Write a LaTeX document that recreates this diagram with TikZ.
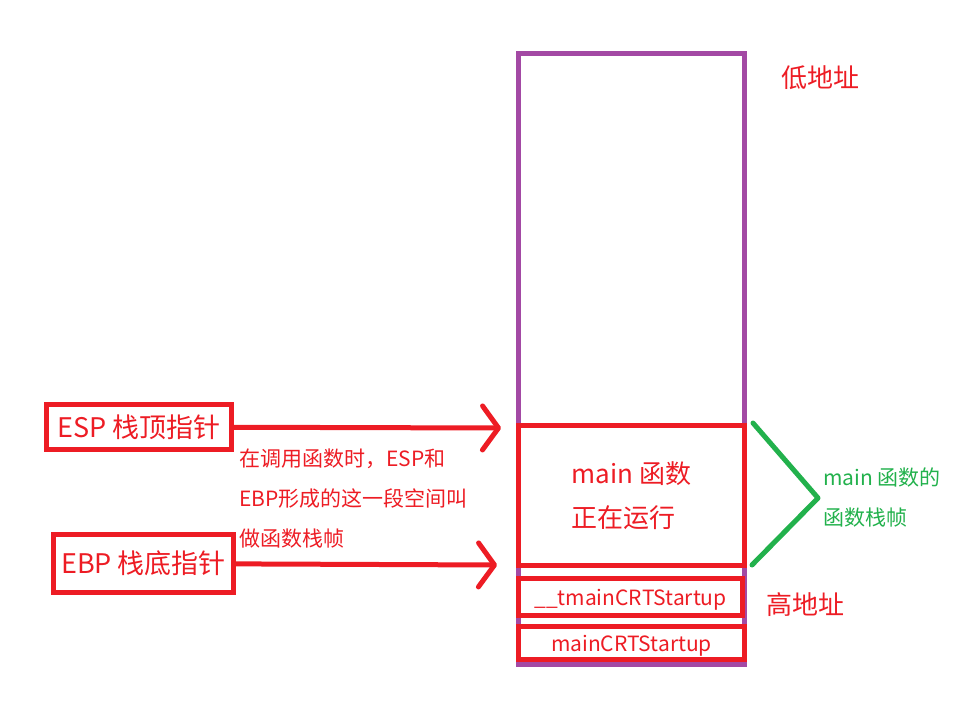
\documentclass[tikz,border=0pt]{standalone}
\usepackage{fontspec}
\setmainfont{Noto Sans CJK SC}
\usetikzlibrary{arrows.meta}
\definecolor{pred}{HTML}{ED1C24}
\definecolor{ppurple}{HTML}{A349A4}
\definecolor{pgreen}{HTML}{22B14C}

\begin{document}
\begin{tikzpicture}[x=1pt, y=-1pt,
    redbox/.style={draw=pred, line width=5pt, inner sep=0pt, text=pred},
    pointer/.style={draw=pred, line width=5pt, -{Straight Barb[length=16pt, width=44pt, line width=5pt, round]}},
    redtext/.style={text=pred, inner sep=0pt}]
    \useasboundingbox (0,0) rectangle (954,703);
    %\draw[step=50, gray, very thin] (0,0) grid (954,703);

    % the stack
    \node[draw=ppurple, line width=5pt, minimum width=226pt, minimum height=611pt] (stack) at (631.5,359) {};
    \node[redbox, minimum width=226pt, minimum height=140pt, align=left,
          font=\fontsize{26}{44}\selectfont] (mainfr) at (631.5,495.5) {main 函数\\正在运行};
    \node[redbox, minimum width=224pt, minimum height=37pt, text depth=0pt,
          font=\fontsize{21}{24}\selectfont] (tmain) at (630.5,597) {\_\_tmainCRTStartup};
    \node[redbox, minimum width=226pt, minimum height=33pt, text depth=0pt,
          font=\fontsize{21}{24}\selectfont] (crt) at (631.5,643) {mainCRTStartup};
    \node[redtext, font=\fontsize{26}{30}\selectfont] (low) at (820,78) {低地址};
    \node[redtext, font=\fontsize{26}{30}\selectfont] (high) at (805,605) {高地址};

    % the pointers
    \begin{scope}[font=\fontsize{27}{30}\selectfont]
    \node[redbox, minimum width=185pt, minimum height=45pt] (esp) at (139,427) {ESP 栈顶指针};
    \node[redbox, minimum width=180pt, minimum height=58pt] (ebp) at (143.5,563.5) {EBP 栈底指针};
    \end{scope}
    \coordinate (esptip) at (501,428);
    \coordinate (ebptip) at (497,565);
    \draw[pointer] (esp) -- (esptip);
    \draw[pointer] (ebp) -- (ebptip);
    \node[redtext, anchor=west, align=left, font=\fontsize{21}{40}\selectfont] (note) at (239,499)
        {在调用函数时，ESP和\\EBP形成的这一段空间叫\\做函数栈帧};

    % the frame brace
    \coordinate (gtop) at (753,423);
    \coordinate (gmid) at (818,498);
    \coordinate (gbot) at (752,565);
    \draw[pgreen, line width=5pt, line cap=round, line join=round] (gtop) -- (gmid) -- (gbot);
    \node[text=pgreen, inner sep=0pt, anchor=west, align=left, font=\fontsize{21}{40}\selectfont] (frame) at (823,498)
        {main 函数的\\函数栈帧};
\end{tikzpicture}
\end{document}
